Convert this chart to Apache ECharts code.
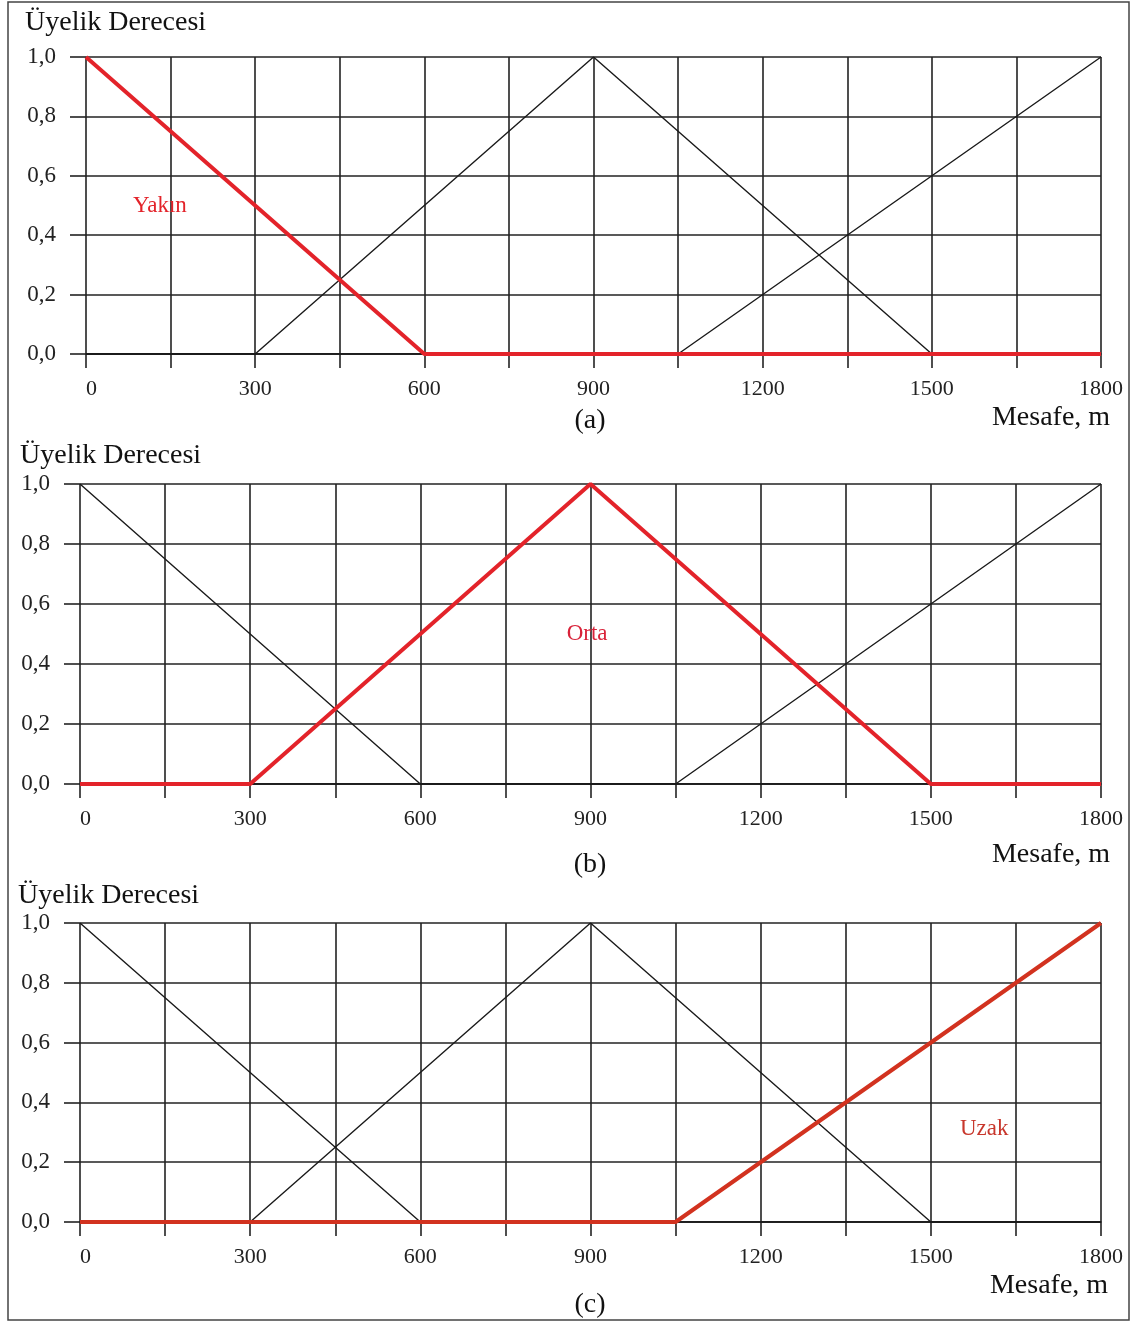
<!DOCTYPE html>
<html><head><meta charset="utf-8">
<script src="https://cdn.jsdelivr.net/npm/echarts@6/dist/echarts.min.js"></script>
<style>html,body{margin:0;padding:0;background:#fff}#c{width:1131px;height:1322px}</style>
</head><body><div id="c"></div>
<script>
// Data (membership functions, distance in m)
var yakinX = [0, 600, 1800];
var yakinY = [1, 0, 0];
var ortaX = [0, 300, 900, 1500, 1800];
var ortaY = [0, 0, 1, 0, 0];
var uzakX = [0, 1050, 1800];
var uzakY = [0, 0, 1];
var xTickLabels = [0, 300, 600, 900, 1200, 1500, 1800];
var yTickLabels = ['0,0', '0,2', '0,4', '0,6', '0,8', '1,0'];
var panelLetters = ['(a)', '(b)', '(c)'];
var setNames = ['Yakın', 'Orta', 'Uzak'];
var labelPos = [[131, 0.5], [894, 0.5], [1594, 0.31]];

function pts(xs, ys) { return xs.map(function (x, i) { return [x, ys[i]]; }); }
var sets = [pts(yakinX, yakinY), pts(ortaX, ortaY), pts(uzakX, uzakY)];
var redColors = ['#e3232a', '#e3232a', '#d2321f'];
var labelColors = ['#e3232a', '#d9233a', '#c8372c'];

var FONT = '"Liberation Serif","DejaVu Serif",serif';
var grids = [
  { left: 86, right: 30, top: 57, height: 297 },
  { left: 80, right: 30, top: 484, height: 300 },
  { left: 80, right: 30, top: 923, height: 299 }
];
var lineCol = '#222';
var xAxes = [], yAxes = [], series = [];
grids.forEach(function (g, p) {
  xAxes.push({
    type: 'value', gridIndex: p, min: 0, max: 1800, interval: 150,
    axisLine: { show: true, lineStyle: { color: lineCol, width: 1.6 } },
    axisTick: { show: true, inside: false, length: 14, lineStyle: { color: lineCol, width: 1.6 } },
    splitLine: { show: true, lineStyle: { color: lineCol, width: 1.6 } },
    axisLabel: {
      margin: 24, color: '#222', fontFamily: FONT, fontSize: 22, alignMinLabel: 'left',
      formatter: function (v) { return xTickLabels.indexOf(v) >= 0 ? String(v) : ''; }
    }
  });
  yAxes.push({
    type: 'value', gridIndex: p, min: 0, max: 1, interval: 0.2,
    axisLine: { show: false },
    axisTick: { show: true, inside: false, length: 16, lineStyle: { color: lineCol, width: 1.6 } },
    splitLine: { show: true, lineStyle: { color: lineCol, width: 1.6 } },
    axisLabel: {
      margin: 30, color: '#222', fontFamily: FONT, fontSize: 23,
      formatter: function (v) { return yTickLabels[Math.round(v * 5)]; }
    }
  });
  sets.forEach(function (d, s) {
    if (s === p) return;
    series.push({ type: 'line', xAxisIndex: p, yAxisIndex: p, data: d, symbol: 'none', silent: true,
      lineStyle: { color: '#1a1a1a', width: 1.4 }, z: 3 });
  });
  series.push({ type: 'line', xAxisIndex: p, yAxisIndex: p, data: sets[p], symbol: 'none', silent: true,
    lineStyle: { color: redColors[p], width: 4 }, z: 5,
    markPoint: { symbol: 'circle', symbolSize: 0, silent: true,
      label: { show: true, formatter: setNames[p], color: labelColors[p], fontFamily: FONT, fontSize: 23, position: 'inside' },
      data: [{ coord: labelPos[p] }] }
  });
});

var titleY = [23, 456, 896], titleX = [25, 20, 18];
var mesY = [418, 855, 1286], mesX = [1051, 1051, 1049];
var letY = [421, 865, 1305];
var graphic = [
  { type: 'rect', shape: { x: 8, y: 2, width: 1121, height: 1318 }, style: { fill: 'none', stroke: '#444', lineWidth: 1.5 }, silent: true }
];
for (var i = 0; i < 3; i++) {
  graphic.push({ type: 'text', x: titleX[i], y: titleY[i], style: { text: 'Üyelik Derecesi', font: '28px ' + FONT, fill: '#111', textVerticalAlign: 'middle' } });
  graphic.push({ type: 'text', x: mesX[i], y: mesY[i], style: { text: 'Mesafe, m', font: '28px ' + FONT, fill: '#111', textAlign: 'center', textVerticalAlign: 'middle' } });
  graphic.push({ type: 'text', x: 590, y: letY[i], style: { text: panelLetters[i], font: '28px ' + FONT, fill: '#111', textAlign: 'center', textVerticalAlign: 'middle' } });
}

var chart = echarts.init(document.getElementById('c'));
chart.setOption({
  animation: false,
  backgroundColor: '#fff',
  grid: grids,
  xAxis: xAxes,
  yAxis: yAxes,
  series: series,
  graphic: graphic
});
</script></body></html>
